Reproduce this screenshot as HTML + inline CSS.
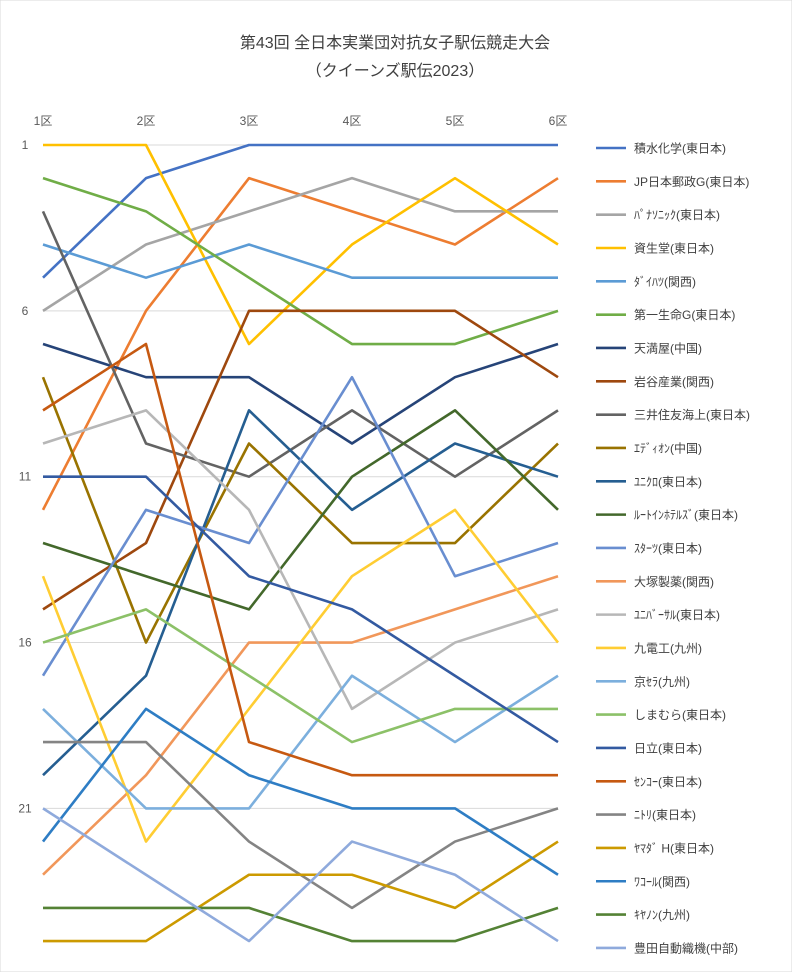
<!DOCTYPE html>
<html><head><meta charset="utf-8">
<style>
html,body{margin:0;padding:0;background:#fff;}
svg{display:block;font-family:"Liberation Sans","Noto Sans CJK JP",sans-serif;}
</style></head>
<body>
<svg id="chart" width="792" height="972" viewBox="0 0 792 972">
<rect x="0" y="0" width="792" height="972" fill="#fff" stroke="#d9d9d9"/>
<text x="395" y="48" text-anchor="middle" font-size="16" fill="#404040">第43回 全日本実業団対抗女子駅伝競走大会</text>
<text x="395" y="76" text-anchor="middle" font-size="16" fill="#404040">（クイーンズ駅伝2023）</text>
<g id="grid"></g><g id="series"></g><g id="legend"></g>
</svg>
<script>
const categories=["1区","2区","3区","4区","5区","6区"];
const teams=["積水化学(東日本)","JP日本郵政G(東日本)","ﾊﾟﾅｿﾆｯｸ(東日本)","資生堂(東日本)","ﾀﾞｲﾊﾂ(関西)","第一生命G(東日本)","天満屋(中国)","岩谷産業(関西)","三井住友海上(東日本)","ｴﾃﾞｨｵﾝ(中国)","ﾕﾆｸﾛ(東日本)","ﾙｰﾄｲﾝﾎﾃﾙｽﾞ(東日本)","ｽﾀｰﾂ(東日本)","大塚製薬(関西)","ﾕﾆﾊﾞｰｻﾙ(東日本)","九電工(九州)","京ｾﾗ(九州)","しまむら(東日本)","日立(東日本)","ｾﾝｺｰ(東日本)","ﾆﾄﾘ(東日本)","ﾔﾏﾀﾞ H(東日本)","ﾜｺｰﾙ(関西)","ｷﾔﾉﾝ(九州)","豊田自動織機(中部)"];
const ranks=[
[5,2,1,1,1,1],
[12,6,2,3,4,2],
[6,4,3,2,3,3],
[1,1,7,4,2,4],
[4,5,4,5,5,5],
[2,3,5,7,7,6],
[7,8,8,10,8,7],
[15,13,6,6,6,8],
[3,10,11,9,11,9],
[8,16,10,13,13,10],
[20,17,9,12,10,11],
[13,14,15,11,9,12],
[17,12,13,8,14,13],
[23,20,16,16,15,14],
[10,9,12,18,16,15],
[14,22,18,14,12,16],
[18,21,21,17,19,17],
[16,15,17,19,18,18],
[11,11,14,15,17,19],
[9,7,19,20,20,20],
[19,19,22,24,22,21],
[25,25,23,23,24,22],
[22,18,20,21,21,23],
[24,24,24,25,25,24],
[21,23,25,22,23,25]];
const yTicks=[1,6,11,16,21];
const colors=["#4472C4","#ED7D31","#A5A5A5","#FFC000","#5B9BD5","#70AD47","#264478","#9E480E","#636363","#997300","#255E91","#43682B","#698ED0","#F1975A","#B7B7B7","#FFCD33","#7CAFDD","#8CC168","#335AA1","#C65911","#848484","#CC9A00","#2E7DC4","#548235","#8FAADC"];
const NS="http://www.w3.org/2000/svg";
const x0=43,x1=558,y0=145,dy=33.17;
function xs(i){return x0+i*(x1-x0)/(categories.length-1);}
function ys(r){return y0+(r-1)*dy;}
const grid=document.getElementById('grid');
yTicks.forEach(t=>{
 const l=document.createElementNS(NS,'line');
 
 
 l.setAttribute('x1',x0);l.setAttribute('x2',x1);l.setAttribute('y1',ys(t));l.setAttribute('y2',ys(t));
 l.setAttribute('stroke','#d9d9d9');grid.appendChild(l);
 const tx=document.createElementNS(NS,'text');
 
 
 tx.setAttribute('x',25);tx.setAttribute('y',ys(t)+4);tx.setAttribute('text-anchor','middle');
 tx.setAttribute('font-size','12');tx.setAttribute('fill','#595959');tx.textContent=t;grid.appendChild(tx);
});
categories.forEach((c,i)=>{
 const tx=document.createElementNS(NS,'text');
 
 
 tx.setAttribute('x',xs(i));tx.setAttribute('y',125);tx.setAttribute('text-anchor','middle');
 tx.setAttribute('font-size','12');tx.setAttribute('fill','#595959');tx.textContent=c;grid.appendChild(tx);
});
const sg=document.getElementById('series'),lg=document.getElementById('legend');
ranks.forEach((r,k)=>{
 const p=document.createElementNS(NS,'polyline');
 
 
 p.setAttribute('points',r.map((v,i)=>xs(i)+','+ys(v)).join(' '));
 p.setAttribute('fill','none');p.setAttribute('stroke',colors[k]);p.setAttribute('stroke-width','2.6');
 p.setAttribute('stroke-linejoin','round');
 sg.appendChild(p);
 const ly=148+k*33.33;
 const g=document.createElementNS(NS,'g');
 
 
 const ll=document.createElementNS(NS,'line');
 
 
 ll.setAttribute('x1',596);ll.setAttribute('x2',626);ll.setAttribute('y1',ly);ll.setAttribute('y2',ly);
 ll.setAttribute('stroke',colors[k]);ll.setAttribute('stroke-width','2.6');g.appendChild(ll);
 const t=document.createElementNS(NS,'text');
 
 
 t.setAttribute('x',634);t.setAttribute('y',ly+4.5);t.setAttribute('font-size','12');t.setAttribute('fill','#404040');
 t.textContent=teams[k];g.appendChild(t);
 lg.appendChild(g);
});
</script>
</body></html>
